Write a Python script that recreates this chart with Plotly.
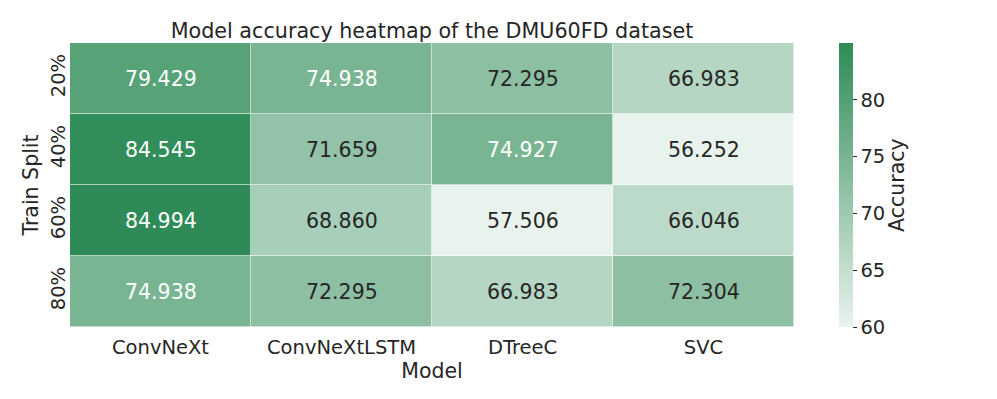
import plotly.graph_objects as go

models = ["ConvNeXt", "ConvNeXtLSTM", "DTreeC", "SVC"]
splits = ["20%", "40%", "60%", "80%"]
acc_20 = [79.429, 74.938, 72.295, 66.983]
acc_40 = [84.545, 71.659, 74.927, 56.252]
acc_60 = [84.994, 68.860, 57.506, 66.046]
acc_80 = [74.938, 72.295, 66.983, 72.304]
z = [acc_20, acc_40, acc_60, acc_80]

zmin, zmax = 60, max(max(r) for r in z)
FONT = "DejaVu Sans"
DARK = "#262626"

# page body has an 8px margin; compensate so the figure lands where the reference is
OFF = 8
W, H = 997 - OFF, 399 - OFF
L, R, T, B = 70 - OFF, 203, 43 - OFF, 72
PW = W - L - R

fig = go.Figure(go.Heatmap(
    z=z, x=models, y=splits,
    zmin=zmin, zmax=zmax,
    colorscale=[[0, "#e9f3ed"], [1, "#2e8b57"]],
    xgap=0.6, ygap=0.6,
    hoverinfo="skip",
    colorbar=dict(
        x=(839 - 70) / PW, xanchor="left", xpad=0, y=0.5, yanchor="middle", len=1,
        ypad=0, thickness=14, outlinewidth=0,
        tickvals=[60, 65, 70, 75, 80], ticks="outside", ticklen=4,
        tickcolor=DARK, tickfont=dict(family=FONT, size=19.5, color=DARK),
    ),
))

annotations = []
for i, row in enumerate(z):
    for j, v in enumerate(row):
        annotations.append(dict(
            x=models[j], y=splits[i], text=f"{v:.3f}", showarrow=False,
            font=dict(family=FONT, size=20.5, color="white" if v >= 74.9 else DARK),
        ))
annotations.append(dict(
    text="Accuracy", textangle=-90, showarrow=False,
    xref="paper", yref="paper", x=(897 - 70) / PW, y=0.5,
    xanchor="center", yanchor="middle",
    font=dict(family=FONT, size=20.5, color=DARK),
))

fig.update_layout(
    width=W, height=H,
    margin=dict(l=L, r=R, t=T, b=B, autoexpand=False),
    paper_bgcolor="white", plot_bgcolor="white",
    font=dict(family=FONT, color=DARK),
    title=dict(text="Model accuracy heatmap of the DMU60FD dataset",
               x=(432 - OFF) / W, xanchor="center",
               y=1 - (31 - OFF) / H, yanchor="middle",
               font=dict(family=FONT, size=20.7, color=DARK)),
    annotations=annotations,
    xaxis=dict(title=dict(text="Model", standoff=2,
                          font=dict(family=FONT, size=20.5, color=DARK)),
               tickfont=dict(family=FONT, size=19.5, color=DARK),
               ticks="outside", ticklen=3, tickcolor="rgba(0,0,0,0)",
               showgrid=False, zeroline=False, automargin=False),
    yaxis=dict(title=dict(text="Train Split", standoff=2,
                          font=dict(family=FONT, size=20.5, color=DARK)),
               tickfont=dict(family=FONT, size=19.5, color=DARK),
               ticks="",
               tickangle=-90, autorange="reversed",
               showgrid=False, zeroline=False, automargin=False),
)

fig.write_html("out.html")
